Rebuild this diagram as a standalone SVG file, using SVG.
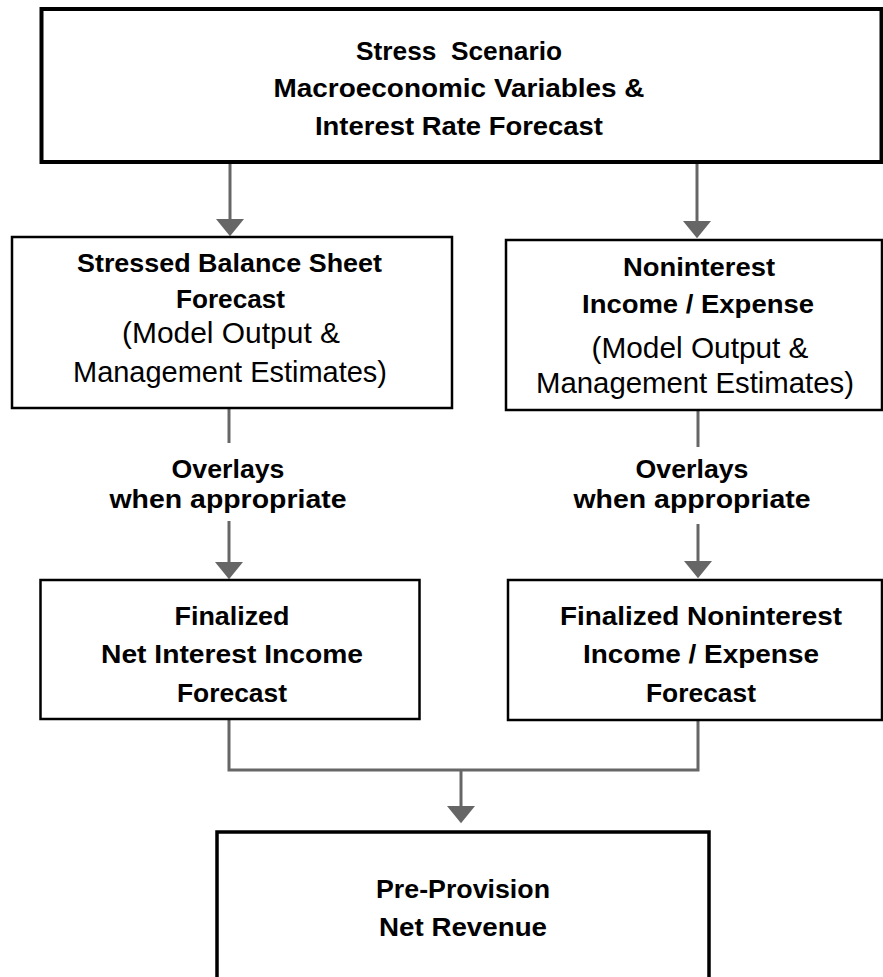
<svg xmlns="http://www.w3.org/2000/svg" width="883" height="977" viewBox="0 0 883 977">
<style>
  .box { fill: #ffffff; stroke: #000000; }
  .b { font-family: "Liberation Sans", Arial, sans-serif; font-weight: bold; font-size: 26px; fill: #000; text-anchor: middle; }
  .r { font-family: "Liberation Sans", Arial, sans-serif; font-weight: normal; font-size: 29px; fill: #000; text-anchor: middle; }
  .conn { fill: none; stroke: #666666; stroke-width: 3; }
</style>
<defs>
  <marker id="arrow" markerUnits="userSpaceOnUse" markerWidth="18" markerHeight="28" refX="0" refY="13" orient="auto" viewBox="0 0 16 26">
    <path d="M0,0 L16,13 L0,26 Z" fill="#666666"/>
  </marker>
</defs>
<rect width="883" height="977" fill="#ffffff"/>

<g id="connectors">
  <line class="conn" x1="230" y1="162" x2="230" y2="219" marker-end="url(#arrow)"/>
  <line class="conn" x1="697" y1="162" x2="697" y2="221" marker-end="url(#arrow)"/>
  <line class="conn" x1="229" y1="408" x2="229" y2="443"/>
  <line class="conn" x1="229" y1="521" x2="229" y2="562" marker-end="url(#arrow)"/>
  <line class="conn" x1="698" y1="410" x2="698" y2="447"/>
  <line class="conn" x1="698" y1="524" x2="698" y2="561" marker-end="url(#arrow)"/>
  <polyline class="conn" points="229,719 229,770 698,770 698,720"/>
  <line class="conn" x1="461" y1="770" x2="461" y2="806" marker-end="url(#arrow)"/>
  <g id="overlay-left">
    <text class="b" x="228" y="478" textLength="113" lengthAdjust="spacingAndGlyphs">Overlays</text>
    <text class="b" x="228" y="508" textLength="237" lengthAdjust="spacingAndGlyphs">when appropriate</text>
  </g>
  <g id="overlay-right">
    <text class="b" x="692" y="478" textLength="113" lengthAdjust="spacingAndGlyphs">Overlays</text>
    <text class="b" x="692" y="508" textLength="237" lengthAdjust="spacingAndGlyphs">when appropriate</text>
  </g>
</g>

<g id="stress-scenario">
  <rect class="box" x="41.5" y="9" width="840" height="153" stroke-width="4"/>
  <text class="b" x="459" y="60" textLength="206" lengthAdjust="spacingAndGlyphs" style="white-space:pre">Stress  Scenario</text>
  <text class="b" x="459" y="97" textLength="371" lengthAdjust="spacingAndGlyphs">Macroeconomic Variables &amp;</text>
  <text class="b" x="459" y="135" textLength="288" lengthAdjust="spacingAndGlyphs">Interest Rate Forecast</text>
</g>

<g id="balance-sheet">
  <rect class="box" x="12" y="237" width="440" height="171" stroke-width="2.5"/>
  <text class="b" x="229.5" y="272" textLength="305" lengthAdjust="spacingAndGlyphs">Stressed Balance Sheet</text>
  <text class="b" x="230.5" y="308" textLength="109" lengthAdjust="spacingAndGlyphs">Forecast</text>
  <text class="r" x="231" y="343" textLength="218" lengthAdjust="spacingAndGlyphs">(Model Output &amp;</text>
  <text class="r" x="230" y="382" textLength="314" lengthAdjust="spacingAndGlyphs">Management Estimates)</text>
</g>

<g id="noninterest">
  <rect class="box" x="506" y="240" width="376" height="170" stroke-width="2.5"/>
  <text class="b" x="699" y="276" textLength="152" lengthAdjust="spacingAndGlyphs">Noninterest</text>
  <text class="b" x="698" y="313" textLength="232" lengthAdjust="spacingAndGlyphs">Income / Expense</text>
  <text class="r" x="700" y="358" textLength="217" lengthAdjust="spacingAndGlyphs">(Model Output &amp;</text>
  <text class="r" x="695" y="393" textLength="318" lengthAdjust="spacingAndGlyphs">Management Estimates)</text>
</g>

<g id="finalized-nii">
  <rect class="box" x="40.5" y="580" width="379" height="139" stroke-width="2.5"/>
  <text class="b" x="232" y="625" textLength="115" lengthAdjust="spacingAndGlyphs">Finalized</text>
  <text class="b" x="232" y="663" textLength="262" lengthAdjust="spacingAndGlyphs">Net Interest Income</text>
  <text class="b" x="232" y="702" textLength="110" lengthAdjust="spacingAndGlyphs">Forecast</text>
</g>

<g id="finalized-noninterest">
  <rect class="box" x="508" y="580" width="374" height="140" stroke-width="2.5"/>
  <text class="b" x="701" y="625" textLength="282" lengthAdjust="spacingAndGlyphs">Finalized Noninterest</text>
  <text class="b" x="701" y="663" textLength="236" lengthAdjust="spacingAndGlyphs">Income / Expense</text>
  <text class="b" x="701" y="702" textLength="110" lengthAdjust="spacingAndGlyphs">Forecast</text>
</g>

<g id="ppnr">
  <rect class="box" x="217" y="832" width="492" height="170" stroke-width="3.5"/>
  <text class="b" x="463" y="898" textLength="174" lengthAdjust="spacingAndGlyphs">Pre-Provision</text>
  <text class="b" x="463" y="936" textLength="168" lengthAdjust="spacingAndGlyphs">Net Revenue</text>
</g>
</svg>
